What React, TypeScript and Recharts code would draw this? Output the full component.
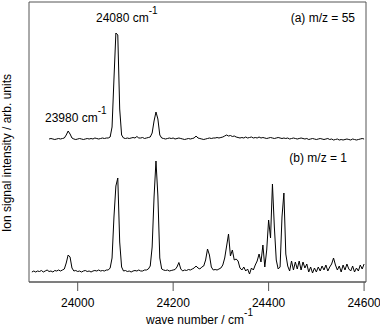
import { LineChart, Line, XAxis, YAxis, ReferenceArea } from "recharts";

// wave number grid, cm^-1 (4 cm^-1 steps)
const wave: number[] = [];
for (let w = 23904; w <= 24600; w += 4) wave.push(w);

// (a) m/z = 55, intensity above its own baseline (arb. units); starts at 23940
const traceA: (number | null)[] = [
  null, null, null, null, null, null, null, null, null,
  0, 0.5, 0, -0.5, 0, 0.5, 0, 0.5, 1, 4, 8, 5, 1, 0, -0.5, // 23940-24000
  0, 0.5, 0, -0.5, 0, 0.5, 0, 0.5, 0, 1, 0.5, 0, 0.5, 1, 0.5, 1, // 24000-24060
  1, 2, 12, 60, 106, 104, 30, 4, 1, 0.5, 1, 0.5, 1, 1.5, 1, 2.5, // 24064-24124
  1, 1, 1.5, 0.5, 1, 1.5, 2, 6, 18, 27, 20, 4, 1, 0.5, 0, 0.5, // 24128-24188
  1, 0.5, 1, 0, 0.5, 1, 0.5, 0, -0.5, 0, 0.5, 0, 0.5, 1, 3, 1, // 24192-24252
  0.5, 0, -0.5, 0, 0.5, 1, 0.5, 1, 1, 1.5, 1, 1.5, 2, 3, 4, 3, // 24256-24316
  3.5, 2.5, 3, 2, 1.5, 1, 1.5, 1, 2, 1, 1.5, 2, 1, 1.5, 1, 2, // 24320-24380
  1, 1.5, 1, 0.5, 1, 1.5, 1, 0.5, 1, 1.5, 1, 0.5, 1, 0.5, 1, 0, // 24384-24444
  0.5, 1, 0.5, 0, 0.5, 1, 0.5, 0, 0.5, -0.5, 0, 0.5, 0, -0.5, 0, 0.5, // 24448-24508
  0, -0.5, 0, 0.5, -0.5, 0, -1, -0.5, 0, -1, -0.5, -1, -0.5, 0, -0.5, -1, // 24512-24572
  0, -0.5, -1, -0.5, 0, 0.5, 0, // 24576-24600
];

// (b) m/z = 1
const traceB: number[] = [
  0, 1, 0, 1, 0.5, 1.5, 0, 1, 2, 0.5, 1, 0, 1.5, 1, 2, 1, // 23904-23964
  2, 3, 9, 17, 15, 4, 1, 1.5, 0.5, 1, 0, 1, 1.5, 0.5, 1, 0, // 23968-24028
  1, 1.5, 1, 2, 1, 1.5, 1, 2, 2, 4, 14, 55, 86, 94, 30, 5, // 24032-24092
  1, 1.5, 0.5, 1, 0, 1, 1.5, 1, 2, 1, 1, 2, 2, 3, 6, 25, // 24096-24156
  75, 111, 76, 14, 3, 2, 1.5, 2, 1, 1.5, 2, 2.5, 5, 9.5, 3, 1, // 24160-24220
  2, 1.5, 2.5, 2, 3, 4, 6, 4, 3, 5, 6, 12, 23, 17, 5, 2, // 24224-24284
  2.5, 2, 3, 4, 7, 14, 26, 38, 16, 22, 12, 13, 11, 4, 2, 5, // 24288-24348
  1, 3, -2, 4, 2, 7, 11, 18, 10, 27, 5, 22, 52, 34, 88, 45, // 24352-24412
  12, 3, 5, 55, 79, 18, 6, 1, 11, 2, 10, 3, 11, 2, 10, 4, // 24416-24476
  8, 0, 5, -1, 4, 0, 5, 1, 6, 2, 7, 1, 5, 8, 14, 7, // 24480-24540
  2, 6, 0, 7, 2, 8, 3, 1, 6, 0, 4, 1, 7, 3, 8, // 24544-24600
];

const xTicks = [24000, 24200, 24400, 24600];

const offsetA = 133;
const rows = wave.map((w, i) => ({
  w,
  a: traceA[i] == null ? null : (traceA[i] as number) + offsetA,
  b: traceB[i],
}));

const X_DOMAIN: [number, number] = [23898, 24604];
const Y_DOMAIN: [number, number] = [-10, 270];
const font = "'Liberation Sans', Arial, sans-serif";
const frame = "#555";

export default function App() {
  return (
    <div style={{ position: "absolute", left: 0, top: 0, width: 380, height: 326, background: "#fff" }}>
      <LineChart
        width={380}
        height={326}
        data={rows}
        margin={{ top: 2, right: 14, bottom: 14, left: 29 }}
        style={{ fontFamily: font }}
      >
        <XAxis
          dataKey="w"
          type="number"
          domain={X_DOMAIN}
          ticks={xTicks}
          allowDataOverflow
          height={30}
          tickSize={9}
          tickMargin={7}
          stroke={frame}
          tick={{ fill: "#000", fontSize: 12, fontFamily: font }}
        />
        <YAxis type="number" domain={Y_DOMAIN} allowDataOverflow hide />
        <ReferenceArea
          x1={X_DOMAIN[0]}
          x2={X_DOMAIN[1]}
          y1={Y_DOMAIN[0]}
          y2={Y_DOMAIN[1]}
          fill="none"
          stroke={frame}
          strokeWidth={1}
          ifOverflow="visible"
        />
        <Line dataKey="a" stroke="#000" strokeWidth={1} dot={false} isAnimationActive={false} />
        <Line dataKey="b" stroke="#000" strokeWidth={1} dot={false} isAnimationActive={false} />

        <text x={96} y={22} fontSize={12} fontFamily={font} fill="#000">
          24080 cm<tspan dy={-8} fontSize={10}>-1</tspan>
        </text>
        <text x={45} y={121.5} fontSize={12} fontFamily={font} fill="#000">
          23980 cm<tspan dy={-8} fontSize={10}>-1</tspan>
        </text>
        <text x={355} y={22} fontSize={12} fontFamily={font} fill="#000" textAnchor="end">
          (a) m/z = 55
        </text>
        <text x={347} y={161.5} fontSize={12} fontFamily={font} fill="#000" textAnchor="end">
          (b) m/z = 1
        </text>
        <text x={146} y={324} fontSize={12} fontFamily={font} fill="#000">
          wave number / cm<tspan dy={-8} fontSize={10}>-1</tspan>
        </text>
        <text
          x={0}
          y={0}
          fontSize={12}
          fontFamily={font}
          fill="#000"
          textAnchor="middle"
          transform="translate(11, 153) rotate(-90)"
        >
          Ion signal intensity / arb. units
        </text>
      </LineChart>
    </div>
  );
}
